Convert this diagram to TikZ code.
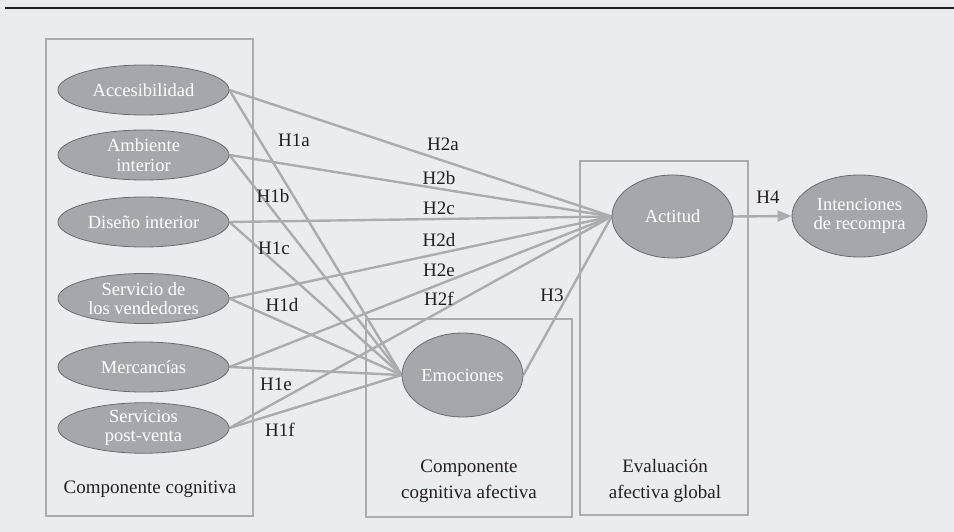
\documentclass[tikz,border=0pt]{standalone}
\usepackage{fontspec}
\setmainfont{Liberation Serif}
\usetikzlibrary{shapes.geometric,arrows.meta}
\pgfdeclarelayer{back}
\pgfsetlayers{back,main}
\definecolor{bg}{HTML}{EBECEE}
\definecolor{ellfill}{HTML}{A6A7AA}
\definecolor{ellline}{HTML}{6B6C6F}
\definecolor{linkgray}{HTML}{ABACAE}
\definecolor{ink}{HTML}{231F20}
\tikzset{
  construct/.style={ellipse, draw=ellline, line width=0.8pt, fill=ellfill,
    inner sep=0pt, text=white, align=center,
    font=\fontsize{18.5}{19.5}\selectfont},
  smallell/.style={construct, minimum width=171pt, minimum height=50pt},
  bigell/.style={construct, minimum width=121pt, minimum height=83pt},
  groupbox/.style={draw=linkgray, line width=2.6pt, inner sep=0pt},
  link/.style={draw=linkgray, line width=2.4pt},
  hyp/.style={text=ink, inner sep=0pt, font=\fontsize{19}{20}\selectfont},
  caption/.style={text=ink, inner sep=0pt, align=center, anchor=base,
    font=\fontsize{19}{26}\selectfont},
}
\begin{document}
\begin{tikzpicture}[x=1pt, y=-1pt]
  % canvas
  \begin{pgfonlayer}{back}
    \fill[bg] (0,0) rectangle (954,532);
  \end{pgfonlayer}
  \useasboundingbox (0,0) rectangle (954,532);

  % constructs
  \node[smallell] (acc) at (143.5,90)  {Accesibilidad};
  \node[smallell] (amb) at (143.5,155) {Ambiente\\interior};
  \node[smallell] (dis) at (143.5,222) {Diseño interior};
  \node[smallell] (ven) at (143.5,298.5) {Servicio de\\los vendedores};
  \node[smallell] (mer) at (143.5,367) {Mercancías};
  \node[smallell] (pos) at (143.5,428) {Servicios\\post-venta};
  \node[bigell, minimum height=84pt] (emo) at (462.5,375) {Emociones};
  \node[bigell] (act) at (672.5,216.5) {Actitud};
  \node[bigell, minimum width=135pt, minimum height=82pt] (int) at (859.5,216) {Intenciones\\de recompra};

  \begin{pgfonlayer}{back}
    % header rule
    \coordinate (ruleL) at (5,8.3);
    \coordinate (ruleR) at (954,8.3);
    \draw[ink, line width=1.8pt] (ruleL) -- (ruleR);

    % grouping boxes
    \node[groupbox, minimum width=207pt, minimum height=477pt] (cogbox) at (149.5,277.5) {};
    \node[groupbox, minimum width=206pt, minimum height=198pt] (afebox) at (469,418) {};
    \node[groupbox, minimum width=168pt, minimum height=354pt] (evabox) at (664,338) {};

    % paths between constructs
    \foreach \src in {acc,amb,dis,ven,mer,pos}{
      \draw[link] (\src.east) -- (emo.west);
      \draw[link] (\src.east) -- (act.west);
    }
    \draw[link] (emo.east) -- (act.west);
    \draw[link, -{Triangle[length=14pt,width=11pt]}] (act.east) -- (int.west);
  \end{pgfonlayer}

  % box captions (base = baseline of the last line)
  \node[caption] (capcog) at (150,493) {Componente cognitiva};
  \node[caption] (capafe) at (469,498) {Componente\\cognitiva afectiva};
  \node[caption] (capeva) at (665,498) {Evaluación\\afectiva global};

  % hypothesis labels
  \node[hyp] (h1a) at (294,140) {H1a};
  \node[hyp] (h1b) at (273,196) {H1b};
  \node[hyp] (h1c) at (274,248) {H1c};
  \node[hyp] (h1d) at (282,305) {H1d};
  \node[hyp] (h1e) at (276,384) {H1e};
  \node[hyp] (h1f) at (280,430) {H1f};
  \node[hyp] (h2a) at (443,144) {H2a};
  \node[hyp] (h2b) at (439,178) {H2b};
  \node[hyp] (h2c) at (439,208) {H2c};
  \node[hyp] (h2d) at (439,240) {H2d};
  \node[hyp] (h2e) at (439,270) {H2e};
  \node[hyp] (h2f) at (439,299) {H2f};
  \node[hyp] (h3)  at (552,295) {H3};
  \node[hyp] (h4)  at (768,197) {H4};
\end{tikzpicture}
\end{document}
